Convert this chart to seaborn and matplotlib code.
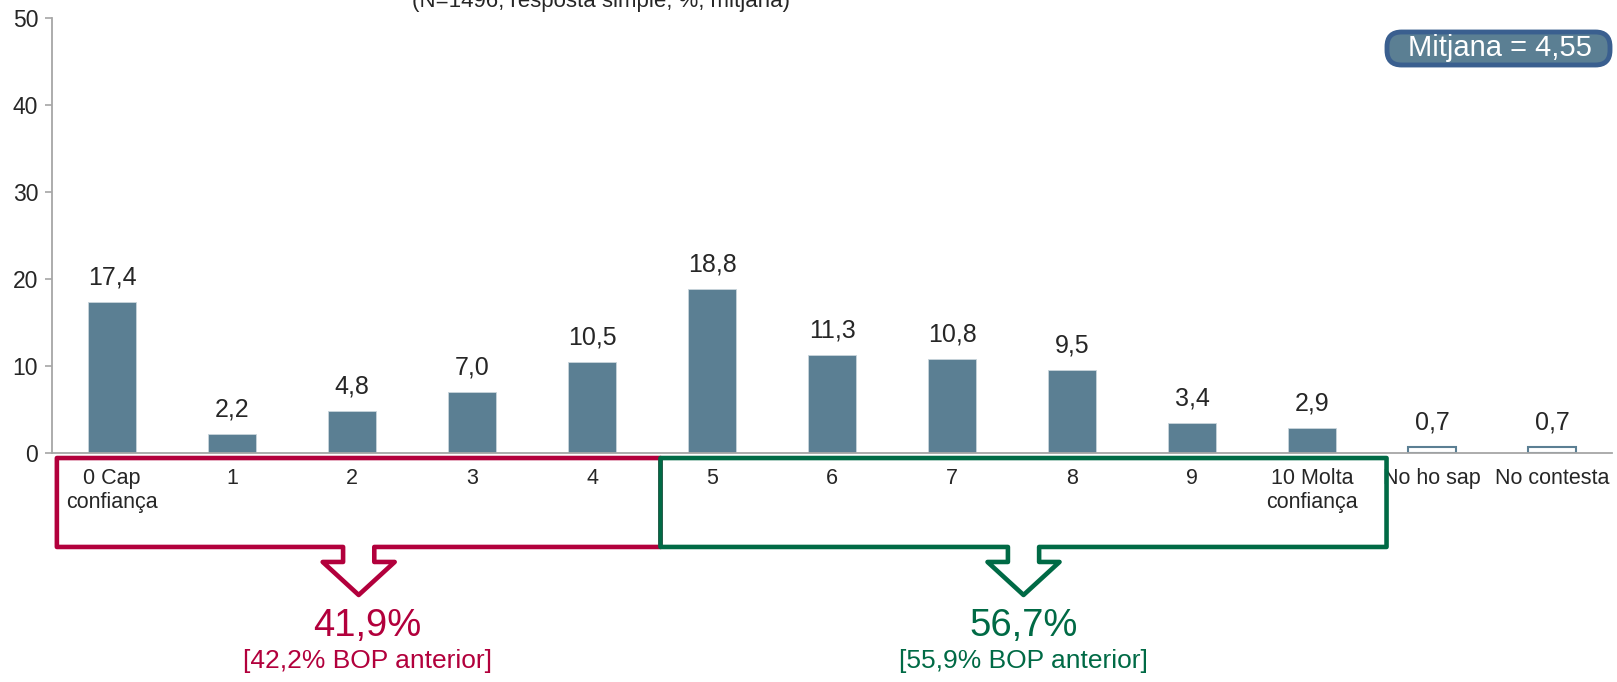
import numpy as np
import pandas as pd
import seaborn as sns
import matplotlib.pyplot as plt
from matplotlib.patches import Polygon, FancyBboxPatch
from matplotlib.transforms import blended_transform_factory

# ======================================
# DATA
# ======================================

categories = [
    "0 Cap\nconfiança", "1", "2", "3", "4", "5", "6", "7", "8", "9",
    "10 Molta\nconfiança", "No ho sap", "No contesta"
]
values = [17.4, 2.2, 4.8, 7.0, 10.5, 18.8, 11.3, 10.8, 9.5, 3.4, 2.9, 0.7, 0.7]
value_labels = ["17,4", "2,2", "4,8", "7,0", "10,5", "18,8", "11,3",
                "10,8", "9,5", "3,4", "2,9", "0,7", "0,7"]
empty_bars = ["No ho sap", "No contesta"]

low_group = ["41,9%", "[42,2% BOP anterior]"]
high_group = ["56,7%", "[55,9% BOP anterior]"]
subtitle = "(N=1496, resposta simple, %, mitjana)"
mean_label = "Mitjana = 4,55"

df = pd.DataFrame({"cat": categories, "val": values})

# ======================================
# STYLE
# ======================================

sns.set_style("white")
plt.rcParams["font.family"] = ["Liberation Sans", "DejaVu Sans"]

bar_color = "#5B7F93"
red = "#B2003C"
green = "#006A45"
axis_gray = "#A6A6A6"

fig = plt.figure(figsize=(16.17, 6.82), dpi=100)
ax = fig.add_axes([0.0322, 0.3358, 0.9648, 0.6378])

sns.barplot(
    data=df,
    x="cat",
    y="val",
    color=bar_color,
    width=0.4,
    saturation=1,
    ax=ax
)

for patch, cat in zip(ax.patches, categories):
    if cat in empty_bars:
        patch.set_facecolor("white")
        patch.set_edgecolor(bar_color)
        patch.set_linewidth(1.5)
    else:
        patch.set_edgecolor("#C9D5DC")
        patch.set_linewidth(0.6)

for i, (v, lab) in enumerate(zip(values, value_labels)):
    ax.annotate(
        lab, (i, v), xytext=(0, 9), textcoords="offset points",
        ha="center", va="bottom", fontsize=18
    )

# ======================================
# AXES
# ======================================

ax.set_xlim(-0.5, len(categories) - 0.5)
ax.set_ylim(0, 50)
ax.set_yticks(range(0, 51, 10))
ax.set_xlabel("")
ax.set_ylabel("")

ax.set_xticks(range(len(categories)))
ax.set_xticklabels(categories, fontsize=15.5, linespacing=1.2)
ax.set_xticks(np.arange(-0.5, len(categories), 1), minor=True)
ax.tick_params(axis="x", which="major", length=0, pad=11)
ax.tick_params(axis="x", which="minor", length=7, color=axis_gray, width=1.2,
               direction="out")
ax.tick_params(axis="y", length=5, color=axis_gray, width=1.2, labelsize=16.5,
               pad=5, left=True)

for side in ["top", "right"]:
    ax.spines[side].set_visible(False)
for side in ["left", "bottom"]:
    ax.spines[side].set_color(axis_gray)
    ax.spines[side].set_linewidth(1.3)

# ======================================
# GROUP BRACKETS
# ======================================

trans = blended_transform_factory(ax.transData, fig.transFigure)

box_top = 0.3284
box_bot = 0.198
head_top = 0.176
tip = 0.1276


def bracket(x0, x1, color, texts, text_shift=0.0):
    cx = (x0 + x1) / 2
    sw = 0.13
    hw = 0.3
    pts = [
        (x0, box_top), (x1, box_top), (x1, box_bot),
        (cx + sw, box_bot), (cx + sw, head_top), (cx + hw, head_top),
        (cx, tip), (cx - hw, head_top), (cx - sw, head_top),
        (cx - sw, box_bot), (x0, box_bot)
    ]
    poly = Polygon(pts, closed=True, fill=False, edgecolor=color,
                   linewidth=3.3, joinstyle="round", transform=trans,
                   clip_on=False)
    ax.add_patch(poly)
    ax.text(cx + text_shift, 0.082, texts[0], transform=trans, ha="center",
            va="center", color=color, fontsize=27.5)
    ax.text(cx + text_shift, 0.031, texts[1], transform=trans, ha="center",
            va="center", color=color, fontsize=19)


bracket(-0.46, 4.57, red, low_group, text_shift=0.07)
bracket(4.57, 10.62, green, high_group)

# ======================================
# MEAN BOX + SUBTITLE
# ======================================

mean_box = FancyBboxPatch(
    (1387 / 1617, 1 - 65 / 682), 223 / 1617, 33 / 682,
    boxstyle="round,pad=0,rounding_size=0.009",
    facecolor=bar_color, edgecolor="#3A5F8F", linewidth=3.5,
    transform=fig.transFigure, mutation_aspect=2.37
)
fig.patches.append(mean_box)
fig.text(1500 / 1617, 1 - 48 / 682, mean_label, color="white",
         fontsize=21, ha="center", va="center")

fig.text(601 / 1617, 1 - 7 / 682, subtitle, fontsize=16,
         ha="center", va="baseline")

fig.savefig("out.png", dpi=100)
